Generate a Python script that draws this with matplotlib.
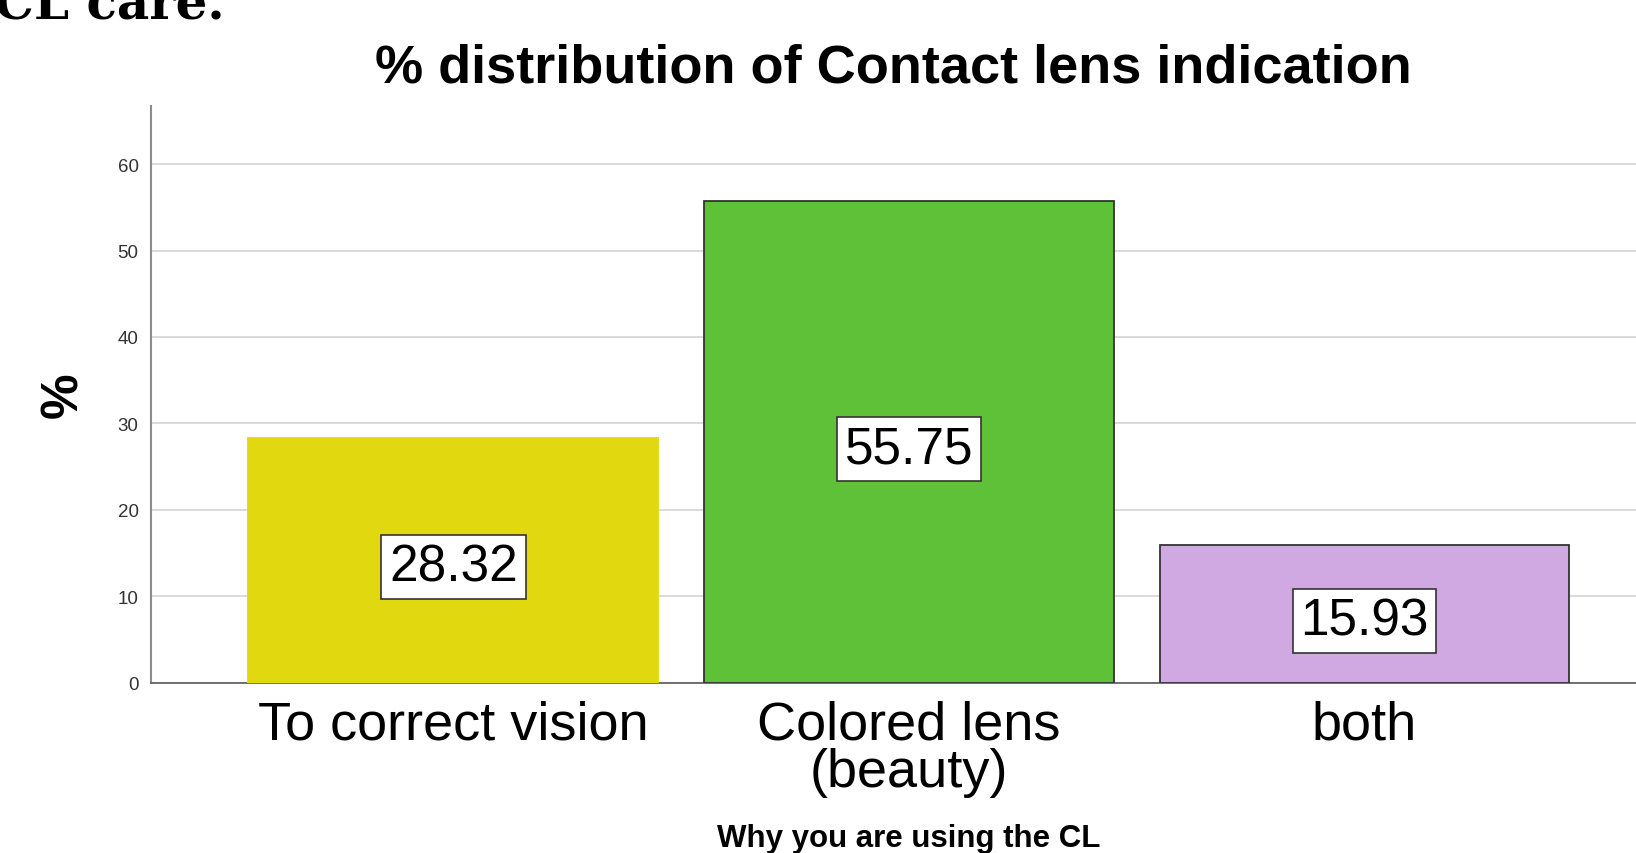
import numpy as np
import matplotlib.pyplot as plt

plt.rcParams['font.family'] = ['Liberation Sans', 'DejaVu Sans']

categories = ['To correct vision', 'Colored lens\n(beauty)', 'both']
percent = [28.32, 55.75, 15.93]
bar_colors = ['#E2D810', '#5EC138', '#D0A9E3']
edge_colors = ['#E2D810', '#333333', '#333333']
yticks = [0, 10, 20, 30, 40, 50, 60]

fig = plt.figure(figsize=(16.36, 8.54), dpi=100)
ax = fig.add_axes([0.0923, 0.1995, 0.9077, 0.675])

x = np.arange(len(categories))
ax.bar(x, percent, width=0.9, color=bar_colors, edgecolor=edge_colors,
       linewidth=1.3, zorder=3)

for xi, v in zip(x, percent):
    ax.annotate(f'{v:.2f}', xy=(xi, v / 2), xytext=(0, -7),
                textcoords='offset pixels', ha='center', va='center',
                fontsize=37, color='black', zorder=5,
                bbox=dict(boxstyle='square,pad=0.15', fc='white',
                          ec='#333333', lw=1.2))

ax.set_xlim(-0.664, 2.596)
ax.set_ylim(0, 66.7)
ax.set_yticks(yticks)
ax.tick_params(axis='y', length=0, pad=9, labelsize=13.5, labelcolor='#333333')
ax.set_xticks(x)
ax.set_xticklabels(categories, fontsize=39, linespacing=0.95)
ax.tick_params(axis='x', length=0, pad=12)
ax.yaxis.grid(True, color='#D4D4D4', linewidth=1.2, zorder=0)
ax.set_axisbelow(True)

for s in ['top', 'right']:
    ax.spines[s].set_visible(False)
ax.spines['left'].set_color('#8C8C8C')
ax.spines['left'].set_linewidth(1.5)
ax.spines['bottom'].set_color('#666666')
ax.spines['bottom'].set_linewidth(1.3)

ax.set_title('% distribution of Contact lens indication', fontsize=39,
             fontweight='bold', pad=18)
ax.set_ylabel('%', fontsize=37, fontweight='bold')
ax.yaxis.set_label_coords(-0.042, 0.5)
ax.set_xlabel('Why you are using the CL', fontsize=22.5, fontweight='bold')
ax.xaxis.label.set_va('baseline')
ax.xaxis.set_label_coords(0.510, -0.284)

fig.text(225 / 1636, 1 - 20 / 854, 'CL care.', ha='right', va='baseline',
         fontsize=36, fontweight='bold', family='DejaVu Serif')

plt.savefig('out.png')
